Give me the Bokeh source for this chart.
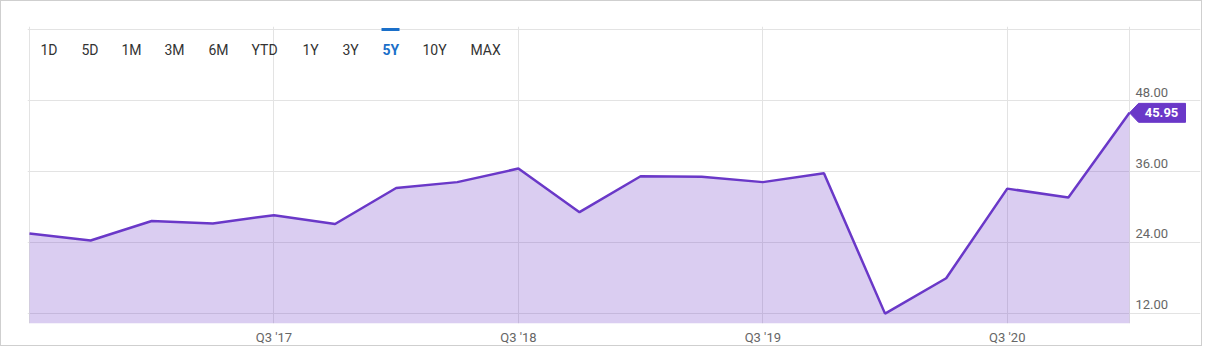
from bokeh.plotting import figure
from bokeh.models import Range1d, FixedTicker, Label, PolyAnnotation, BoxAnnotation
from bokeh.embed import file_html
from bokeh.resources import INLINE

# ---------------- data ----------------
quarters = ["Q3 '16", "Q4 '16", "Q1 '17", "Q2 '17", "Q3 '17", "Q4 '17", "Q1 '18", "Q2 '18",
            "Q3 '18", "Q4 '18", "Q1 '19", "Q2 '19", "Q3 '19", "Q4 '19", "Q1 '20", "Q2 '20",
            "Q3 '20", "Q4 '20", "Q1 '21"]
prices = [25.5, 24.3, 27.6, 27.2, 28.6, 27.1, 33.2, 34.2, 36.5, 29.1,
          35.2, 35.1, 34.2, 35.7, 11.9, 17.9, 33.1, 31.6, 45.95]
y_ticks = [12, 24, 36, 48]
y_tick_labels = ["12.00", "24.00", "36.00", "48.00"]
range_buttons = ["1D", "5D", "1M", "3M", "6M", "YTD", "1Y", "3Y", "5Y", "10Y", "MAX"]
active_button = "5Y"

# ---------------- layout / style ----------------
ORG = 1                         # canvas origin in picture px (1px css border)
W, H = 1202, 346
BOX_L, BOX_T, BOX_R, BOX_B = 29, 29, 1129, 324   # data box in picture px
FL, FT, FR = 27, 26, 1200                        # (slightly larger) frame in picture px
FW, FH = FR - FL, BOX_B - FT
PPU_Y = (313.5 - 100.5) / 36.0                   # px per price unit
button_x = [40, 81, 121, 164, 208, 251, 302, 342, 382, 422, 470]  # picture px
PURPLE = "#6a38c8"
BLUE = "#1a6fc9"
GRID = "#e3e3e3"
FONT = "Roboto"

n = len(quarters)
xs = list(range(n))
last = n - 1
ppu_x = (BOX_R - BOX_L) / last
X_LO = -(BOX_L - FL) / ppu_x
X_HI = X_LO + FW / ppu_x
Y_BOX_TOP = 48 + (100.5 - BOX_T) / PPU_Y
Y_HI = 48 + (100.5 - FT) / PPU_Y
Y_LO = 12 - (BOX_B - 313.5) / PPU_Y

def y_at(py):
    return Y_HI - (py - FT) / PPU_Y

p = figure(width=W, height=H, output_backend="svg", toolbar_location=None,
           x_range=Range1d(X_LO, X_HI), y_range=Range1d(Y_LO, Y_HI),
           y_axis_location=None,
           min_border_left=FL - ORG, min_border_top=FT - ORG,
           min_border_right=W - (FL - ORG) - FW, min_border_bottom=H - (FT - ORG) - FH)
p.styles = {"border": "1px solid #cfcfcf"}
p.background_fill_color = "white"
p.border_fill_color = "white"
p.outline_line_color = None

# grids (also draw the data box edges)
q3_ticks = [i for i, q in enumerate(quarters) if q.startswith("Q3") and i > 0]
p.xgrid.ticker = FixedTicker(ticks=[0] + q3_ticks + [last])
p.xgrid.bounds = (Y_LO, Y_BOX_TOP)
p.ygrid.ticker = FixedTicker(ticks=[Y_LO] + y_ticks + [Y_BOX_TOP])
p.ygrid.bounds = (0, last)
for g in (p.xgrid, p.ygrid):
    g.grid_line_color = GRID
    g.grid_line_width = 1

# x axis
xa = p.xaxis[0]
xa.ticker = FixedTicker(ticks=q3_ticks)
xa.major_label_overrides = {i: quarters[i] for i in q3_ticks}
xa.axis_line_color = None
xa.major_tick_line_color = None
xa.minor_tick_line_color = None
xa.major_tick_out = 0
xa.major_tick_in = 0
xa.major_label_standoff = 6
xa.major_label_text_font = FONT
xa.major_label_text_font_size = "13px"
xa.major_label_text_color = "#666666"

# y tick labels (right of the data box, sitting above their grid lines)
p.text(x=[last + 6 / ppu_x] * len(y_ticks), y=[t + 8.5 / PPU_Y for t in y_ticks],
       text=y_tick_labels, text_align="left", text_baseline="middle",
       text_font={"value": FONT}, text_font_size="13px", text_color="#666666")

# area + line
p.varea(x=xs, y1=Y_LO, y2=prices, fill_color=PURPLE, fill_alpha=0.25)
p.line(xs, prices, line_color=PURPLE, line_width=2.5)

# last price tag
last_v = prices[-1]
hh = 9.5 / PPU_Y
tag_px = [0, 9, 56, 56, 9]
tag_py = [0, -hh, -hh, hh, hh]
p.add_layout(PolyAnnotation(xs=[last + d / ppu_x for d in tag_px],
                            ys=[last_v + d for d in tag_py],
                            fill_color=PURPLE, fill_alpha=1, line_color=PURPLE, line_alpha=1))
p.add_layout(Label(x=last, y=last_v, x_offset=32, text=f"{last_v:.2f}",
                   text_align="center", text_baseline="middle", text_font=FONT,
                   text_font_size="13px", text_font_style="bold", text_color="white"))

# range buttons (screen x is measured from the frame's left edge)
for bx, b in zip(button_x, range_buttons):
    active = b == active_button
    p.add_layout(Label(x=bx - FL, y=y_at(50), x_units="screen", text=b,
                       text_align="left", text_baseline="middle", text_font=FONT,
                       text_font_size="14px",
                       text_font_style="bold" if active else "normal",
                       text_color=BLUE if active else "#333333"))
    if active:
        p.add_layout(BoxAnnotation(left=bx - 1 - FL, right=bx + 17 - FL,
                                   left_units="screen", right_units="screen",
                                   top=y_at(27.5), bottom=y_at(30.5),
                                   fill_color=BLUE, fill_alpha=1, line_alpha=0))

open("out.html", "w").write(file_html(p, INLINE))
